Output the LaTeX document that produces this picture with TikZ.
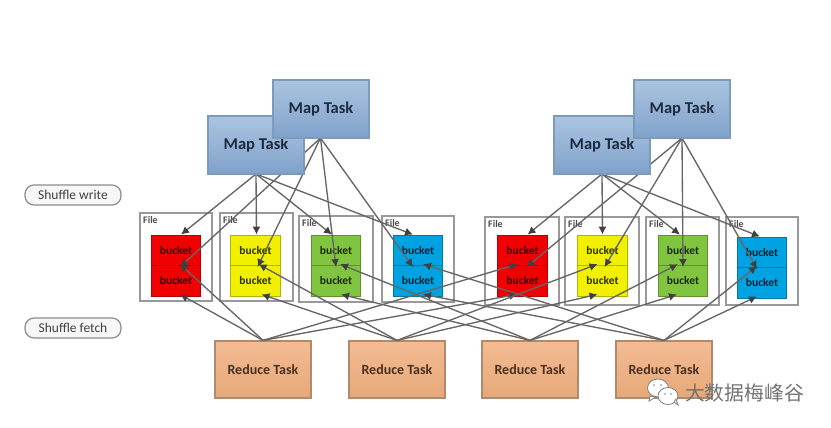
\documentclass[tikz,border=0pt]{standalone}
\usepackage{fontspec}
\setmainfont{Carlito}
\newfontfamily\cjkfont{Noto Sans CJK SC}
\usetikzlibrary{arrows.meta}
\definecolor{wire}{HTML}{666666}
\definecolor{tipc}{HTML}{404040}
\definecolor{mapedge}{HTML}{7C9ABC}
\definecolor{redge}{HTML}{B08A6E}
\definecolor{mapt}{HTML}{ABC4E0}
\definecolor{mapb}{HTML}{7FA2CA}
\definecolor{mapx}{HTML}{1D2B40}
\definecolor{redt}{HTML}{F3BC93}
\definecolor{redb}{HTML}{E6A878}
\definecolor{redx}{HTML}{4A3020}
\definecolor{filec}{HTML}{999999}
\definecolor{bred}{HTML}{F00000}
\definecolor{byel}{HTML}{F0F000}
\definecolor{bgrn}{HTML}{80C440}
\definecolor{bblu}{HTML}{00A2E2}
\tikzset{
  task/.style={draw,line width=1.2pt,inner sep=0pt,minimum width=96pt},
  maptask/.style={task,draw=mapedge,minimum height=58pt,top color=mapt,bottom color=mapb,text=mapx,font=\fontsize{16.5}{17}\selectfont\bfseries},
  reducetask/.style={task,draw=redge,minimum height=57pt,top color=redt,bottom color=redb,text=redx,font=\fontsize{14}{15}\selectfont\bfseries},
  filebox/.style={draw=filec,line width=1.1pt,inner sep=0pt},
  filelabel/.style={font=\fontsize{10}{10}\selectfont\bfseries,text=black!70,inner sep=0pt,anchor=north west},
  bucketbox/.style={inner sep=0pt,draw=#1!75!black,fill=#1,line width=.8pt,
     minimum width=49.5pt,minimum height=30.5pt,font=\fontsize{11.5}{12}\selectfont\bfseries,text=#1!20!black},
  flow/.style={draw=wire,line width=1.35pt,-{Latex[length=8pt,width=8pt,color=tipc]}},
  pill/.style={draw=black!45,line width=1.2pt,fill=black!3,rounded corners=9pt,inner sep=0pt,
     minimum width=96pt,minimum height=20pt,font=\fontsize{13.5}{14}\selectfont,text=black!75},
}
\begin{document}
\begin{tikzpicture}[x=1pt,y=-1pt]
\useasboundingbox[fill=white] (0,0) rectangle (831,428);
% pills
\node[pill] (sw) at (73,195) {Shuffle write};
\node[pill] (sf) at (73,328) {Shuffle fetch};
% files
\foreach \n/\xa/\ya/\xb/\yb in {1/140/213/212/301,2/220/213/293/301,3/299/216/373/302,4/382/216/454/302,
                               5/485/217/559/305,6/565/217/639/305,7/646/217/719/305,8/726/217/798/305}{
  \node[filebox,minimum width={(\xb-\xa)*1pt},minimum height={(\yb-\ya)*1pt}] (f\n) at ({(\xa+\xb)/2},{(\ya+\yb)/2}) {};
  \node[filelabel] (fl\n) at ({\xa+3},{\ya+3}) {File};
}
% buckets
\foreach \n/\c/\x/\ytop in {1/bred/176/235,2/byel/255.5/235,3/bgrn/336/235,4/bblu/418/235,
                            5/bred/522.5/235,6/byel/602.5/235,7/bgrn/683/235,8/bblu/762/237}{
  \node[bucketbox=\c] (bt\n) at (\x,{\ytop+15.25}) {bucket};
  \node[bucketbox=\c] (bb\n) at (\x,{\ytop+45.75}) {bucket};
}
% reduce tasks
\node[reducetask] (r1) at (263,369.5) {Reduce Task};
\node[reducetask] (r2) at (397,369.5) {Reduce Task};
\node[reducetask] (r3) at (530,369.5) {Reduce Task};
\node[reducetask] (r4) at (664,369.5) {Reduce Task};
% map task anchors for the connectors (boxes drawn afterwards, over the lines)
\coordinate (ma) at (256,174);
\coordinate (mb) at (320.5,138);
\coordinate (mc) at (602,174);
\coordinate (md) at (682,138);
% map to bucket
\foreach \m/\n/\s in {ma/1/5,ma/2/1,ma/3/-4,ma/4/-5,mc/5/5,mc/6/0,mc/7/-3,mc/8/-2}{
  \draw[flow] (\m) -- ([xshift=\s pt]bt\n.north);
}
\foreach \m/\n/\s in {mb/1/4,mb/2/2,mb/3/0,mb/4/-5,md/5/4,md/6/2,md/7/0,md/8/-5}{
  \draw[flow] (\m) -- ([xshift=\s pt,yshift=-2pt]bb\n.north);
}
% reduce to bucket
\foreach \r/\n/\s/\u in {r1/1/4/4,r2/2/3/6,r3/3/4/5,r4/4/5/5,r1/5/-5/-5,r2/6/-5/-5,r3/7/-5/-6,r4/8/-5/-5}{
  \draw[flow] (\r.north) -- ([xshift=\s pt,yshift=1pt]bb\n.north);
  \draw[flow] (\r.north) -- ([xshift=\u pt,yshift=2pt]bb\n.south);
}
% map tasks
\node[maptask] (m1) at (256,145) {Map Task};
\node[maptask] (m2) at (321,109) {Map Task};
\node[maptask] (m3) at (602,145) {Map Task};
\node[maptask] (m4) at (682,109) {Map Task};
% watermark
\begin{scope}[draw=black!50,line width=.8pt,fill=white]
  \filldraw (658,388) ellipse (10.5 and 9);
  \filldraw (650,396) -- (649,401) -- (656,397) -- cycle;
  \filldraw (668,396) ellipse (10 and 8.5);
  \filldraw (674,402) -- (678,405) -- (676,399) -- cycle;
  \fill[black!50] (654,385) circle (.9) (661,385) circle (.9) (665,394) circle (.8) (671,394) circle (.8);
\end{scope}
\node[font=\cjkfont\fontsize{19.8}{20}\selectfont,text=black!55,inner sep=0pt] (wm) at (744.5,392.5) {大数据梅峰谷};
\end{tikzpicture}
\end{document}
